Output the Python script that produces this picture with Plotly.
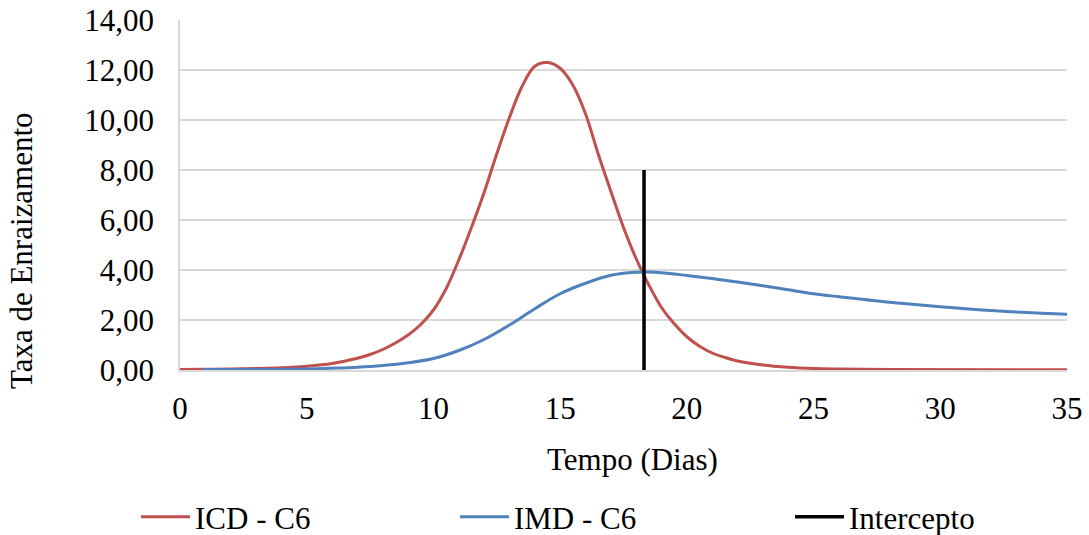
import plotly.graph_objects as go

# ICD - C6 (red)
icd_x = [0, 1, 2, 3, 4, 5, 6, 7, 7.5, 8, 8.5, 9, 9.5, 10, 10.5, 11, 11.5, 12, 12.5, 13,
         13.5, 14, 14.5, 15, 15.5, 16, 16.5, 17, 17.5, 18, 18.5, 19, 19.5,
         20, 20.5, 21, 21.5, 22, 23, 24, 25, 26, 28, 35]
icd_y = [0.02, 0.03, 0.04, 0.06, 0.09, 0.15, 0.26, 0.47, 0.62, 0.82, 1.08, 1.4, 1.82, 2.4,
         3.25, 4.4, 5.7, 7.1, 8.65, 10.1, 11.35, 12.15, 12.3, 12.07, 11.4,
         10.25, 8.65, 7.15, 5.7, 4.45, 3.4, 2.5, 1.85, 1.33, 0.95, 0.68, 0.5, 0.36, 0.2,
         0.11, 0.06, 0.04, 0.02, 0.01]

# IMD - C6 (blue)
imd_x = [0.9, 3, 5, 6, 7, 8, 9, 10, 11, 12, 13, 14, 15, 16, 17, 18, 18.5, 19, 20, 21, 22,
         23, 24, 25, 26, 27, 28, 29, 30, 31, 32, 33, 34, 35]
imd_y = [0.02, 0.02, 0.04, 0.07, 0.11, 0.18, 0.29, 0.46, 0.78, 1.22, 1.8, 2.45, 3.05, 3.47,
         3.79, 3.91, 3.92, 3.89, 3.78, 3.66, 3.52, 3.37, 3.21, 3.05, 2.93, 2.82, 2.71, 2.62,
         2.53, 2.45, 2.38, 2.32, 2.27, 2.23]

# Intercepto (vertical line)
int_x = [18.31, 18.31]
int_y = [0, 8]

x_ticks = [0, 5, 10, 15, 20, 25, 30, 35]
y_ticks = [0, 2, 4, 6, 8, 10, 12, 14]

FONT = "Liberation Serif"
FS = 31

fig = go.Figure()
fig.add_trace(go.Scatter(x=icd_x, y=icd_y, mode="lines", name="ICD - C6", legend="legend",
                         line=dict(color="#C0504D", width=3, shape="spline", smoothing=1)))
fig.add_trace(go.Scatter(x=imd_x, y=imd_y, mode="lines", name="IMD - C6", legend="legend2",
                         line=dict(color="#4F81BD", width=3, shape="spline", smoothing=1)))
fig.add_trace(go.Scatter(x=int_x, y=int_y, mode="lines", name="Intercepto", legend="legend3",
                         line=dict(color="#000000", width=3.5)))

leg_common = dict(orientation="h", xanchor="left", y=-0.42, yanchor="middle",
                  itemwidth=49, bgcolor="rgba(0,0,0,0)",
                  font=dict(family=FONT, size=FS, color="black"))

fig.update_layout(
    width=1089, height=535,
    margin=dict(l=180, r=22, t=20, b=165, autoexpand=False),
    paper_bgcolor="white", plot_bgcolor="white",
    separators=",.",
    font=dict(family=FONT, size=FS, color="black"),
    showlegend=True,
    legend=dict(x=-0.0496, **leg_common),
    legend2=dict(x=0.310, **leg_common),
    legend3=dict(x=0.6877, **leg_common),
    xaxis=dict(range=[0, 35], tickvals=x_ticks, showgrid=False, zeroline=False,
               showline=True, linecolor="#D9D9D9", linewidth=1.5, ticks="",
               ticklabelstandoff=10, tickfont=dict(family=FONT, size=FS)),
    yaxis=dict(range=[0, 14], tickvals=y_ticks, tickformat=".2f", showgrid=True,
               gridcolor="#D9D9D9", gridwidth=1.5, zeroline=False, showline=True,
               linecolor="#D9D9D9", linewidth=1.5, ticks="", ticklabelstandoff=18,
               tickfont=dict(family=FONT, size=FS)),
    annotations=[
        dict(text="Taxa de Enraizamento", xref="paper", yref="paper", x=-0.178, y=0.34,
             xanchor="center", yanchor="middle", textangle=-90, showarrow=False,
             font=dict(family=FONT, size=FS)),
        dict(text="Tempo (Dias)", xref="paper", yref="paper", x=0.51, y=-0.257,
             xanchor="center", yanchor="middle", showarrow=False,
             font=dict(family=FONT, size=FS)),
    ],
)

fig.write_html("out.html")
